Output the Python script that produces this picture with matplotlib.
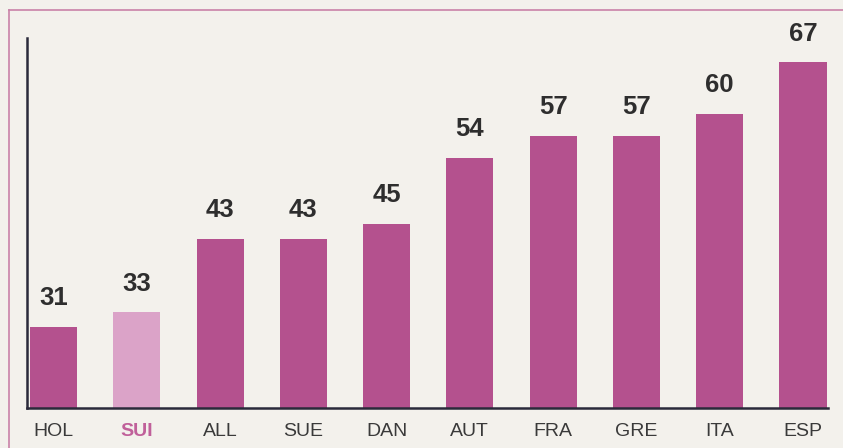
import matplotlib.pyplot as plt
from matplotlib.lines import Line2D

countries = ['HOL', 'SUI', 'ALL', 'SUE', 'DAN', 'AUT', 'FRA', 'GRE', 'ITA', 'ESP']
values = [31, 33, 43, 43, 45, 54, 57, 57, 60, 67]
highlight = 'SUI'

plt.rcParams['font.family'] = ['Liberation Sans', 'DejaVu Sans']

W, H = 843, 448
bg = '#f3f1ec'
bar_col = '#b4518e'
light_col = '#dba3c8'
frame_col = '#c982a8'

fig = plt.figure(figsize=(W / 100, H / 100), dpi=100, facecolor=bg)
ax = fig.add_axes([27 / W, 40 / H, (828 - 27) / W, (408 - 38) / H])
ax.set_facecolor(bg)

colors = [light_col if c == highlight else bar_col for c in countries]
x = list(range(len(countries)))
ax.bar(x, values, width=0.565, color=colors, bottom=0)
ax.set_ylim(20, 70.3)
ax.set_xlim(-0.318, 9.30)

for xi, v in zip(x, values):
    ax.annotate(str(v), (xi, v), xytext=(0, 12), textcoords='offset points',
                ha='center', va='bottom', fontsize=18.5, fontweight='bold', color='#2e2e2e')

ax.set_xticks(x)
ax.set_xticklabels(countries, fontsize=14, color='#3a3a3a')
ax.tick_params(axis='x', length=0, pad=11)
ax.set_yticks([])
for lbl in ax.get_xticklabels():
    if lbl.get_text() == highlight:
        lbl.set_color('#c0609a')
        lbl.set_fontweight('bold')

for s in ['top', 'right']:
    ax.spines[s].set_visible(False)
ax.spines['left'].set_color('#2a2a3a')
ax.spines['bottom'].set_color('#2a2a3a')
ax.spines['left'].set_linewidth(1.8)
ax.spines['bottom'].set_linewidth(1.8)

# pink page frame
fig.add_artist(Line2D([9 / W, 1], [1 - 10 / H, 1 - 10 / H], color=frame_col, lw=1.2))
fig.add_artist(Line2D([9 / W, 9 / W], [0, 1 - 10 / H], color=frame_col, lw=1.2))

fig.savefig('out.png', dpi=100, facecolor=bg)
